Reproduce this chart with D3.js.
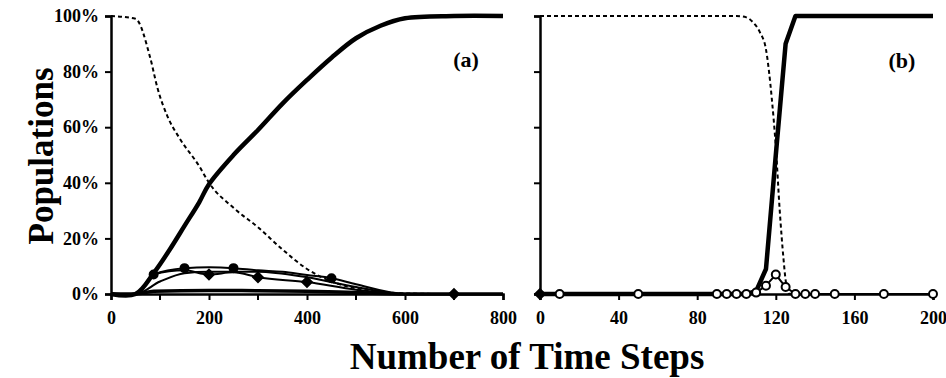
<!DOCTYPE html>
<html>
<head>
<meta charset="utf-8" />
<script src="https://d3js.org/d3.v7.min.js"></script>
<style>
	body { margin: 0; background: #fff; }
	text { font-family: "Liberation Serif", "Times New Roman", serif; font-weight: bold; fill: #000; }
</style>
</head>
<body>
<div id="chart"></div>
<script>
// ---- panel (a) data : time steps 0..800 ----
var thickA_t = [0, 50, 87, 120, 150, 180, 200, 250, 300, 350, 400, 450, 500, 550, 600, 700, 800];
var thickA_v = [0, 0, 7.5, 16, 24.5, 33, 39.5, 50, 59, 68.5, 77, 85, 92, 96.5, 99.2, 100, 100];

var dashA_t = [0, 50, 80, 95, 115, 140, 180, 200, 250, 300, 350, 400, 450, 500, 550, 600, 700, 800];
var dashA_v = [100, 99, 85, 74, 64, 56, 46, 40, 31, 24, 16, 9, 4.5, 2, 0.8, 0.2, 0, 0];

var circA_t = [0, 50, 87, 150, 200, 250, 300, 350, 400, 450, 500, 600, 700, 800];
var circA_v = [0, 0, 7, 9.3, 9.6, 9.3, 8.5, 8, 6.8, 5.7, 3.5, 0, 0, 0];
var circA_marks = [87, 150, 250, 450];

var diamA_t = [0, 50, 87, 150, 200, 250, 300, 400, 500, 600, 700, 800];
var diamA_v = [0, 0, 7, 8.5, 7, 7.8, 6, 4.3, 1.5, 0, 0, 0];
var diamA_marks = [200, 300, 400, 700];

var smoothA_t = [0, 50, 100, 150, 200, 300, 400, 500, 600, 800];
var smoothA_v = [0, 0, 4.5, 7.5, 8, 8, 6, 2.5, 0, 0];

var lowA_t = [0, 50, 87, 200, 300, 400, 500, 600, 800];
var lowA_v = [0, 0, 1, 1.3, 1.2, 1, 0.5, 0, 0];

// ---- panel (b) data : time steps 0..200 ----
var tB = [0, 10, 50, 90, 95, 100, 105, 110, 115, 120, 125, 130, 135, 140, 150, 175, 200];
var thickB_v = [0, 0, 0, 0, 0, 0, 0, 1, 9, 50, 90, 100, 100, 100, 100, 100, 100];
var circB_v = [0, 0, 0, 0, 0, 0, 0, 0.5, 3, 7, 2.5, 0, 0, 0, 0, 0, 0];
var dashB_t = [0, 100, 105, 108, 112, 115, 118, 120, 122, 124, 125, 127, 130, 200];
var dashB_v = [100, 100, 99.5, 98, 94, 88, 70, 53, 30, 12, 5, 0, 0, 0];

var yTicks = [0, 20, 40, 60, 80, 100];
var xTicksA = [0, 200, 400, 600, 800];
var xTicksA_minor = [100, 300, 500, 700];
var xTicksB = [0, 40, 80, 120, 160, 200];

var W = 946, H = 378;
var svg = d3.select("#chart").append("svg").attr("width", W).attr("height", H);

var y = d3.scaleLinear().domain([0, 100]).range([294, 16]);
var xA = d3.scaleLinear().domain([0, 800]).range([111, 503]);
var xB = d3.scaleLinear().domain([0, 200]).range([540, 933]);

function zip(t, v) { return t.map(function (d, i) { return [d, v[i]]; }); }

function drawPanel(x, xTicks, minor, showYLabels) {
	// x axis
	var gx = svg.append("g").attr("transform", "translate(0," + y(0) + ")")
		.call(d3.axisBottom(x).tickValues(xTicks).tickSize(6).tickFormat(d3.format("d")));
	gx.select(".domain").attr("stroke-width", 2.5);
	gx.selectAll(".tick line").attr("stroke-width", 2);
	gx.selectAll(".tick text").attr("font-size", 18).attr("dy", "1.15em");
	if (minor.length) {
		svg.append("g").selectAll("line").data(minor).enter().append("line")
			.attr("x1", x).attr("x2", x).attr("y1", y(0)).attr("y2", y(0) + 6)
			.attr("stroke", "#000").attr("stroke-width", 2);
	}
	// y axis
	var gy = svg.append("g").attr("transform", "translate(" + x(0) + ",0)")
		.call(d3.axisLeft(y).tickValues(yTicks).tickSize(6)
			.tickFormat(function (d) { return showYLabels ? d + "%" : ""; }));
	gy.select(".domain").attr("stroke-width", 2.5);
	gy.selectAll(".tick line").attr("stroke-width", 2);
	gy.selectAll(".tick text").attr("font-size", 18).attr("x", -12);
}

function drawLine(x, data, width, dash, curve) {
	var line = d3.line().x(function (d) { return x(d[0]); }).y(function (d) { return y(d[1]); })
		.curve(curve || d3.curveMonotoneX);
	svg.append("path").datum(data)
		.attr("fill", "none").attr("stroke", "#000")
		.attr("stroke-width", width)
		.attr("stroke-dasharray", dash || null)
		.attr("stroke-linejoin", "round")
		.attr("d", line);
}

function drawMarks(x, data, shape, fill) {
	var sym = d3.symbol().type(shape === "diamond" ? d3.symbolDiamond2 : d3.symbolCircle)
		.size(shape === "diamond" ? 60 : 50);
	svg.append("g").selectAll("path").data(data).enter().append("path")
		.attr("d", sym)
		.attr("transform", function (d) { return "translate(" + x(d[0]) + "," + y(d[1]) + ")"; })
		.attr("fill", fill).attr("stroke", "#000").attr("stroke-width", 2);
}

function pick(t, v, marks) {
	return marks.map(function (m) { return [m, v[t.indexOf(m)]]; });
}

drawPanel(xA, xTicksA, xTicksA_minor, true);
drawPanel(xB, xTicksB, [], false);

// panel (a)
drawLine(xA, zip(lowA_t, lowA_v), 3.5);
drawLine(xA, zip(smoothA_t, smoothA_v), 2);
drawLine(xA, zip(diamA_t, diamA_v), 2);
drawLine(xA, zip(circA_t, circA_v), 2);
drawLine(xA, zip(dashA_t, dashA_v), 2, "4,3");
drawLine(xA, zip(thickA_t, thickA_v), 4.5, null, d3.curveCatmullRom);
drawMarks(xA, pick(circA_t, circA_v, circA_marks), "circle", "#000");
drawMarks(xA, pick(diamA_t, diamA_v, diamA_marks), "diamond", "#000");

// panel (b)
drawLine(xB, zip(dashB_t, dashB_v), 2, "4,3", d3.curveMonotoneX);
drawLine(xB, zip(tB, circB_v), 2, null, d3.curveLinear);
drawLine(xB, zip(tB, thickB_v), 4.5, null, d3.curveLinear);
drawMarks(xB, zip(tB, circB_v).slice(1), "circle", "#fff");
drawMarks(xB, [[0, 0]], "diamond", "#000");

// labels
svg.append("text").attr("x", 466).attr("y", 67).attr("text-anchor", "middle")
	.attr("font-size", 22).text("(a)");
svg.append("text").attr("x", 902).attr("y", 68).attr("text-anchor", "middle")
	.attr("font-size", 22).text("(b)");

svg.append("text").attr("transform", "translate(53,156) rotate(-90)")
	.attr("text-anchor", "middle").attr("font-size", 35).text("Populations");

svg.append("text").attr("x", 527).attr("y", 369).attr("text-anchor", "middle")
	.attr("font-size", 37).text("Number of Time Steps");
</script>
</body>
</html>
